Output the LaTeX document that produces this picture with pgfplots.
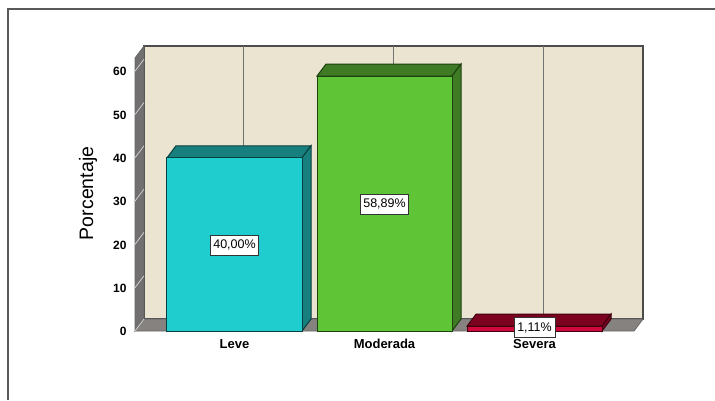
\documentclass[border=0pt]{standalone}
\usepackage{fontspec}
\setmainfont{Liberation Sans}
\usepackage{pgfplots}
\pgfplotsset{compat=1.18}

\definecolor{wallc}{HTML}{EBE4D0}
\definecolor{floorc}{HTML}{858280}
\definecolor{sidec}{HTML}{716F70}
\definecolor{tealf}{HTML}{1FCDCF}
\definecolor{teald}{HTML}{17807E}
\definecolor{teale}{HTML}{0A3F40}
\definecolor{greenf}{HTML}{60C437}
\definecolor{greend}{HTML}{3F7A24}
\definecolor{greene}{HTML}{1D4210}
\definecolor{redf}{HTML}{D0083C}
\definecolor{redd}{HTML}{7C0320}
\definecolor{rede}{HTML}{3E0010}

% 1pt here = 1px of the reference
\begin{document}
\begin{tikzpicture}[x=1pt,y=1pt]
\path[use as bounding box] (0,0) rectangle (715,400);
\draw[line width=1.5pt,color=black!65] (8,0) -- (8,391) -- (715,391);
\begin{axis}[
    at={(135pt,69pt)}, anchor=south west,
    scale only axis,
    width=499pt, height=273pt,
    xmin=-0.6633, xmax=2.6633,
    ymin=0, ymax=63.05,
    clip=false,
    axis line style={draw=none},
    major tick length=0pt,
    xtick={0,1,2},
    xticklabels={Leve,Moderada,Severa},
    ytick={0,10,...,60},
    /pgf/number format/assume math mode=true,
    yticklabel style={font=\fontsize{12}{14}\selectfont\bfseries, xshift=-5pt, yshift=-0.5pt},
    xticklabel style={font=\fontsize{13}{15}\selectfont\bfseries, yshift=-5pt},
    ylabel={Porcentaje},
    ylabel style={font=\fontsize{19.5}{22}\selectfont, at={(axis description cs:-0.094,0.504)}, anchor=center, rotate=0},
]
% walls and floor
\addplot[fill=wallc, draw=black!70, line width=1.2pt] coordinates {(-0.6033,2.77)(2.7233,2.77)(2.7233,65.82)(-0.6033,65.82)} -- cycle;
\addplot[fill=sidec, draw=black!60, line width=0.8pt] coordinates {(-0.6633,0)(-0.6033,2.77)(-0.6033,65.82)(-0.6633,63.05)} -- cycle;
\addplot[fill=floorc, draw=black!60, line width=0.8pt] coordinates {(-0.6633,0)(2.6633,0)(2.7233,2.77)(-0.6033,2.77)} -- cycle;
% grid lines on the back wall
\addplot[color=black!55, line width=1pt] coordinates {(0.06,2.77)(0.06,65.82)};
\addplot[color=black!55, line width=1pt] coordinates {(1.06,2.77)(1.06,65.82)};
\addplot[color=black!55, line width=1pt] coordinates {(2.06,2.77)(2.06,65.82)};
% tick marks across the side wall
\addplot[white!85!black, line width=0.7pt] coordinates {(-0.6633,0)(-0.6033,2.77)};
\addplot[white!85!black, line width=0.7pt] coordinates {(-0.6633,10)(-0.6033,12.77)};
\addplot[white!85!black, line width=0.7pt] coordinates {(-0.6633,20)(-0.6033,22.77)};
\addplot[white!85!black, line width=0.7pt] coordinates {(-0.6633,30)(-0.6033,32.77)};
\addplot[white!85!black, line width=0.7pt] coordinates {(-0.6633,40)(-0.6033,42.77)};
\addplot[white!85!black, line width=0.7pt] coordinates {(-0.6633,50)(-0.6033,52.77)};
\addplot[white!85!black, line width=0.7pt] coordinates {(-0.6633,60)(-0.6033,62.77)};
% Leve
\addplot[fill=teald, draw=teale, line width=1pt] coordinates {(-0.45,40)(0.45,40)(0.51,42.77)(-0.39,42.77)} -- cycle;
\addplot[fill=teald, draw=teale, line width=1pt] coordinates {(0.45,0)(0.51,2.77)(0.51,42.77)(0.45,40)} -- cycle;
\addplot[ybar, bar width=135pt, bar shift=0pt, fill=tealf, draw=teale, line width=1pt] coordinates {(0,40)};
% Moderada
\addplot[fill=greend, draw=greene, line width=1pt] coordinates {(0.55,58.89)(1.45,58.89)(1.51,61.66)(0.61,61.66)} -- cycle;
\addplot[fill=greend, draw=greene, line width=1pt] coordinates {(1.45,0)(1.51,2.77)(1.51,61.66)(1.45,58.89)} -- cycle;
\addplot[ybar, bar width=135pt, bar shift=0pt, fill=greenf, draw=greene, line width=1pt] coordinates {(1,58.89)};
% Severa
\addplot[fill=redd, draw=rede, line width=1pt] coordinates {(1.55,1.11)(2.45,1.11)(2.51,3.88)(1.61,3.88)} -- cycle;
\addplot[fill=redd, draw=rede, line width=1pt] coordinates {(2.45,0)(2.51,2.77)(2.51,3.88)(2.45,1.11)} -- cycle;
\addplot[ybar, bar width=135pt, bar shift=0pt, fill=redf, draw=rede, line width=1pt] coordinates {(2,1.11)};
% value labels
\tikzset{vlab/.style={fill=white, draw=black!80, line width=1pt, inner sep=0pt, minimum height=20pt, font=\fontsize{12.5}{14}\selectfont}}
\node[vlab, minimum width=48pt] at (axis cs:0,19.8) {40,00\%};
\node[vlab, minimum width=48pt] at (axis cs:1,29.3) {58,89\%};
\node[vlab, minimum width=41pt] at (axis cs:2,0.7) {1,11\%};
\end{axis}
\end{tikzpicture}
\end{document}
